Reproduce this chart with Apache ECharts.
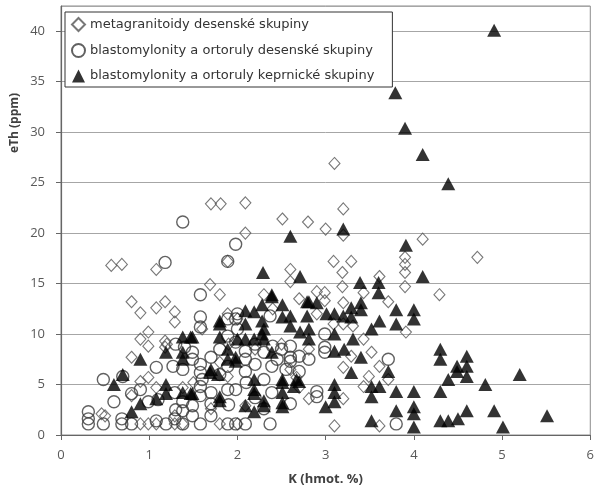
<!DOCTYPE html>
<html>
<head>
<meta charset="utf-8">
<script src="https://cdn.jsdelivr.net/npm/echarts@6/dist/echarts.min.js"></script>
<style>
  html, body { margin: 0; padding: 0; background: #fff; }
  #root { width: 597px; height: 491px; }
</style>
</head>
<body>
<div id="root"></div>
<script>
// nazvy serii (legenda)
var seriesNames = [
  'metagranitoidy desenské skupiny',
  'blastomylonity a ortoruly desenské skupiny',
  'blastomylonity a ortoruly keprnické skupiny'
];

// [K (hmot. %), eTh (ppm)]
var metagranitoidyDes = [
  [0.5,1.9],[0.57,16.8],[0.69,16.9],[0.8,13.2],[0.9,12.1],[1.08,12.6],[1.18,13.2],[1.29,12.2],
  [1.29,11.2],[0.99,10.2],[0.9,9.5],[0.99,8.8],[0.8,7.7],[1.18,9.3],[1.18,8.7],[0.9,5.3],[0.99,5.7],
  [0.8,3.9],[1.08,4.7],[0.99,1.1],[1.08,1.1],[1.29,1.1],[1.38,1.1],[1.08,16.4],[1.7,22.9],
  [1.81,22.9],[2.09,23.0],[2.51,21.4],[2.09,20.0],[3.1,26.9],[3.2,22.4],[2.8,21.1],[3.0,20.4],
  [3.2,19.8],[4.1,19.4],[1.89,17.2],[2.6,16.4],[2.6,15.2],[1.69,14.9],[1.8,13.9],[1.89,12.0],
  [1.7,2.6],[1.8,1.1],[2.0,1.1],[2.3,13.9],[1.38,4.7],[1.29,1.9],[1.8,7.2],[1.89,5.8],[2.09,2.9],
  [3.09,17.2],[3.29,17.2],[3.19,16.1],[3.61,15.7],[3.9,17.6],[3.9,16.9],[3.9,16.1],[3.19,14.7],
  [3.9,14.7],[4.72,17.6],[4.29,13.9],[2.9,14.2],[2.99,14.1],[2.99,13.3],[3.2,13.1],[3.71,13.2],
  [3.43,14.1],[3.09,11.0],[3.2,11.0],[3.31,10.8],[3.43,9.5],[3.91,10.2],[3.52,8.2],[3.29,7.8],
  [3.2,6.7],[3.61,6.8],[3.49,5.8],[3.71,5.5],[2.81,3.6],[3.2,3.6],[3.1,0.9],[3.61,0.9],[3.43,4.8],
  [2.67,5.7],[2.81,8.5],[2.7,4.7],[0.46,2.1],[1.2,9.0],[1.6,10.5],[2.0,11.5],[2.2,8.5],[2.4,12.5],
  [2.5,9.0],[1.5,5.2],[2.7,13.5],[2.9,12.0],[2.6,6.5],[1.9,9.0],[0.9,1.1]
];

var blastomylonityDes = [
  [1.38,21.1],[1.98,18.9],[1.18,17.1],[1.89,17.2],[1.58,13.9],[1.58,11.7],[1.58,10.7],[1.89,11.5],
  [1.98,11.5],[0.48,5.5],[0.6,3.3],[0.31,2.3],[0.31,1.6],[0.31,1.1],[0.48,1.1],[0.69,1.1],[0.8,1.1],
  [0.69,1.6],[0.8,4.1],[0.99,3.3],[1.08,6.7],[1.08,1.4],[1.19,1.1],[1.27,6.8],[1.38,6.5],[1.29,4.2],
  [1.38,3.3],[1.38,2.4],[1.29,1.6],[1.38,1.1],[1.58,1.1],[1.49,1.9],[1.49,2.9],[1.58,3.9],[1.58,4.8],
  [1.58,6.2],[1.58,7.0],[1.49,7.5],[1.49,8.2],[1.7,7.7],[1.7,4.2],[1.7,3.1],[1.7,1.9],[1.89,1.1],
  [1.98,1.1],[2.09,1.1],[1.89,4.5],[1.98,4.5],[2.09,6.3],[2.09,8.3],[2.09,7.5],[1.89,6.8],[1.89,9.8],
  [1.98,9.2],[2.37,1.1],[2.37,11.8],[2.3,8.2],[2.39,6.8],[2.39,4.2],[2.6,8.8],[2.6,7.3],[2.6,3.1],
  [2.3,2.6],[2.99,10.0],[2.99,8.7],[2.99,8.2],[3.71,7.5],[2.9,4.3],[2.9,3.8],[3.8,1.1],[2.6,7.7],
  [2.7,7.8],[2.7,6.3],[2.81,7.5],[2.55,6.5],[2.2,9.0],[2.2,7.0],[1.8,6.0],[2.0,10.5],[1.3,9.0],
  [1.6,5.5],[2.4,8.8],[2.5,8.5],[2.45,7.5],[1.1,3.5],[0.9,4.5],[0.7,5.8],[1.3,2.5],[1.8,8.5],
  [2.1,5.2],[2.3,5.5],[2.2,3.7],[1.4,8.7],[1.9,3.0],[2.0,12.0]
];

var blastomylonityKep = [
  [4.91,40.1],[3.79,33.9],[3.9,30.4],[4.1,27.8],[4.39,24.9],[2.6,19.7],[3.2,20.4],[3.91,18.8],
  [2.29,16.1],[2.71,15.7],[3.39,15.1],[3.6,15.1],[4.1,15.7],[3.6,14.1],[2.81,13.2],[2.9,13.1],
  [3.01,12.0],[3.1,12.0],[3.2,11.8],[3.29,12.6],[3.4,13.1],[3.4,12.4],[3.29,11.7],[3.52,10.5],
  [3.61,11.3],[3.8,12.4],[3.8,11.0],[4.0,12.4],[4.0,11.5],[2.6,11.8],[2.6,10.8],[2.71,10.2],
  [2.81,10.5],[2.81,9.5],[3.1,10.0],[3.1,8.3],[3.21,8.5],[3.31,9.5],[3.4,7.7],[3.29,6.2],[3.71,6.3],
  [2.7,5.3],[3.1,5.0],[3.1,4.2],[3.1,3.3],[3.0,2.8],[3.52,4.8],[3.61,4.8],[3.52,3.8],[3.8,4.3],
  [4.0,4.3],[3.8,2.4],[4.0,2.8],[4.0,2.1],[4.0,0.8],[3.52,1.4],[4.3,8.5],[4.3,7.5],[4.3,4.3],
  [4.39,5.5],[4.49,6.8],[4.49,6.3],[4.6,7.8],[4.6,6.8],[4.6,5.8],[4.81,5.0],[5.2,6.0],[4.3,1.4],
  [4.39,1.4],[4.5,1.6],[4.6,2.4],[4.91,2.4],[5.01,0.8],[5.51,1.9],
  [0.9,7.5],[0.7,6.0],[0.6,5.0],[0.8,2.3],[0.9,3.1],[1.19,8.2],[1.19,5.0],[1.08,3.6],[1.19,4.1],
  [1.38,9.7],[1.47,9.7],[1.38,8.2],[1.38,7.5],[1.47,4.1],[1.38,4.2],[1.69,6.2],[1.78,6.0],[1.8,11.0],
  [1.8,9.7],[1.89,8.5],[1.8,3.4],[1.98,7.7],[2.0,9.5],[2.09,12.3],[2.09,11.0],[2.19,12.2],[2.09,9.5],
  [2.19,9.5],[2.28,12.9],[2.28,11.3],[2.28,10.0],[2.39,13.7],[2.51,12.9],[2.51,11.7],[2.39,8.2],
  [2.19,5.5],[2.19,4.1],[2.09,2.9],[2.19,2.3],[2.3,3.4],[2.51,5.2],[2.51,4.2],[2.51,2.8],[2.64,4.8],
  [2.39,13.9],[2.79,13.2],[2.79,11.8],[1.49,9.7],[1.8,11.3],[1.7,6.5],[1.89,7.5],[1.98,7.3],
  [2.19,4.5],[2.3,2.9],[2.51,5.5],[2.51,3.2],[2.67,5.5],[1.49,4.1],[1.8,3.8],[2.3,10.5],[2.3,9.5]
];

var xTicks = { min: 0, max: 6, interval: 1 };
var yTicks = { min: 0, max: 42.5, interval: 5 };

var dom = document.getElementById('root');
var myChart = echarts.init(dom, null, { renderer: 'canvas' });

var fontFam = '"Open Sans", "Liberation Sans", sans-serif';
var hollow = function (border, width) {
  return { color: 'rgba(255,255,255,0)', borderColor: border, borderWidth: width };
};

var option = {
  animation: false,
  backgroundColor: '#fff',
  grid: {
    left: 61, right: 1, top: 6, bottom: 55,
    show: true, borderColor: '#8c8c8c', borderWidth: 1
  },
  legend: {
    orient: 'vertical',
    left: 65, top: 12,
    backgroundColor: '#fff',
    borderColor: '#333',
    borderWidth: 1,
    borderRadius: 0,
    padding: [5, 18, 4, 6],
    itemGap: 11,
    itemWidth: 13,
    itemHeight: 13,
    textStyle: { fontFamily: '"DejaVu Sans", sans-serif', fontSize: 13, color: '#333', lineHeight: 14 },
    data: seriesNames
  },
  xAxis: {
    type: 'value',
    min: xTicks.min, max: xTicks.max, interval: xTicks.interval,
    name: 'K (hmot. %)',
    nameLocation: 'middle',
    nameGap: 38,
    nameTextStyle: { fontFamily: fontFam, fontSize: 13, fontWeight: 'bold', color: '#404040' },
    axisLine: { lineStyle: { color: '#666', width: 1.2 } },
    axisTick: { show: true, inside: false, length: 5, lineStyle: { color: '#666' } },
    axisLabel: { fontFamily: fontFam, fontSize: 13, color: '#595959', margin: 14 },
    splitLine: { show: false }
  },
  yAxis: {
    type: 'value',
    min: yTicks.min, max: yTicks.max, interval: yTicks.interval,
    axisLine: { show: true, lineStyle: { color: '#666', width: 1.2 } },
    axisTick: { show: true, inside: false, length: 5, lineStyle: { color: '#666' } },
    axisLabel: { fontFamily: fontFam, fontSize: 13, color: '#595959', margin: 16, showMaxLabel: false },
    splitLine: { show: true, lineStyle: { color: '#a6a6a6', width: 1 } }
  },
  graphic: [{
    type: 'text',
    x: 9, y: 153,
    rotation: Math.PI / 2,
    style: {
      text: 'eTh (ppm)',
      fill: '#404040',
      font: 'bold 12px ' + fontFam
    }
  }],
  series: [
    {
      name: seriesNames[0],
      type: 'scatter',
      symbol: 'diamond',
      symbolSize: [11, 12],
      itemStyle: hollow('#555', 1.1),
      data: metagranitoidyDes
    },
    {
      name: seriesNames[1],
      type: 'scatter',
      symbol: 'circle',
      symbolSize: 12,
      itemStyle: hollow('#3a3a3a', 1.4),
      data: blastomylonityDes
    },
    {
      name: seriesNames[2],
      type: 'scatter',
      symbol: 'triangle',
      symbolSize: [14, 13],
      itemStyle: { color: '#000' },
      data: blastomylonityKep
    }
  ]
};

myChart.setOption(option);
</script>
</body>
</html>
